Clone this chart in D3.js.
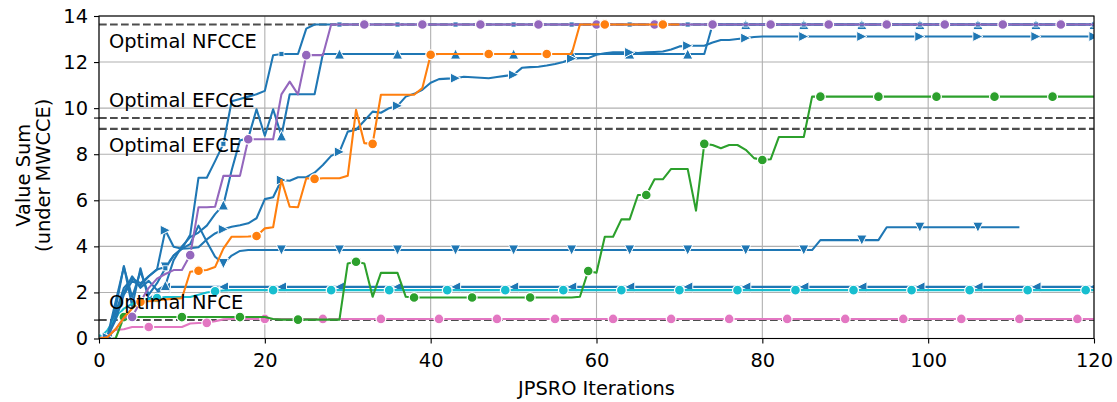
<!DOCTYPE html>
<html><head><meta charset="utf-8">
<script src="https://cdn.jsdelivr.net/npm/d3@7"></script>
<style>
body{margin:0;background:#fff}
svg{display:block}
text{font-family:"DejaVu Sans",sans-serif;fill:#000}
</style>
</head><body>
<svg id="c" width="1117" height="402"></svg>
<script>
// ---------------- data ----------------
const xTicks = [0, 20, 40, 60, 80, 100, 120];
const yTicks = [0, 2, 4, 6, 8, 10, 12, 14];
const optimalNames  = ["Optimal NFCCE", "Optimal EFCCE", "Optimal EFCE", "Optimal NFCE"];
const optimalValues = [13.63, 9.57, 9.1, 0.8];
const xLabel = "JPSRO Iterations";
const yLabelLines = ["Value Sum", "(under MWCCE)"];

const squareBlue = [
 0, 0.05, 1.6, 3.1, 1.8, 2.9, 1.9, 2.4, 3.05, 3.6,
 3.9, 4.5, 6.98, 6.98, 7.7, 8.45, 10.3, 10.4, 10.5, 10.6,
 10.75, 12.3, 12.35, 12.35, 12.35, 13.45, 13.63, 13.63, 13.63, 13.63,
 13.63, 13.63, 13.63, 13.63, 13.63, 13.63, 13.63, 13.63, 13.63, 13.63,
 13.63, 13.63, 13.63, 13.63, 13.63, 13.63, 13.63, 13.63, 13.63, 13.63,
 13.63, 13.63, 13.63, 13.63, 13.63, 13.63, 13.63, 13.63, 13.63, 13.63,
 13.63, 13.63, 13.63, 13.63, 13.63, 13.63, 13.63, 13.63, 13.63, 13.63,
 13.63, 13.63, 13.63, 13.63, 13.63, 13.63, 13.63, 13.63, 13.63, 13.63,
 13.63, 13.63, 13.63, 13.63, 13.63, 13.63, 13.63, 13.63, 13.63, 13.63,
 13.63, 13.63, 13.63, 13.63, 13.63, 13.63, 13.63, 13.63, 13.63, 13.63,
 13.63, 13.63, 13.63, 13.63, 13.63, 13.63, 13.63, 13.63, 13.63, 13.63,
 13.63, 13.63, 13.63, 13.63, 13.63, 13.63, 13.63, 13.63, 13.63, 13.63,
 13.63
];
const triUpBlue = [
 0, 0.05, 0.9, 2.0, 2.7, 2.2, 2.5, 2.1, 2.3, 3.4,
 4.0, 4.4, 4.6, 4.9, 5.4, 5.8, 7.3, 8.6, 8.7, 9.95,
 8.8, 9.95, 8.8, 10.6, 10.6, 10.6, 10.6, 12.35, 12.35, 12.35,
 12.35, 12.35, 12.35, 12.35, 12.35, 12.35, 12.35, 12.35, 12.35, 12.35,
 12.35, 12.35, 12.35, 12.35, 12.35, 12.35, 12.35, 12.35, 12.35, 12.35,
 12.35, 12.35, 12.35, 12.35, 12.35, 12.35, 12.35, 12.35, 12.35, 12.35,
 12.35, 12.35, 12.35, 12.35, 12.35, 12.35, 12.35, 12.35, 12.35, 12.35,
 12.35, 12.35, 12.35, 12.35, 13.63, 13.63, 13.63, 13.63, 13.63, 13.63,
 13.63, 13.63, 13.63, 13.63, 13.63, 13.63, 13.63, 13.63, 13.63, 13.63,
 13.63, 13.63, 13.63, 13.63, 13.63, 13.63, 13.63, 13.63, 13.63, 13.63,
 13.63, 13.63, 13.63, 13.63, 13.63, 13.63, 13.63, 13.63, 13.63, 13.63,
 13.63, 13.63, 13.63, 13.63, 13.63, 13.63, 13.63, 13.63, 13.63, 13.63,
 13.63
];
const triRightBlue = [
 0, 0.05, 0.8, 1.9, 2.5, 2.3, 2.7, 3.0, 4.7, 3.98,
 3.9, 3.92, 3.96, 4.3, 4.56, 4.74, 4.85, 4.92, 5.0, 5.22,
 6.05, 6.13, 6.88, 6.85, 7.0, 7.0, 7.2, 7.53, 7.93, 8.1,
 8.98, 9.06, 9.45, 9.85, 9.8, 10.0, 10.1, 10.5, 10.62, 10.8,
 11.1, 11.26, 11.28, 11.3, 11.36, 11.34, 11.32, 11.3, 11.35, 11.4,
 11.45, 11.75, 11.78, 11.8, 11.85, 11.92, 12.0, 12.15, 12.17, 12.17,
 12.32, 12.38, 12.42, 12.42, 12.42, 12.39, 12.42, 12.44, 12.46, 12.55,
 12.68, 12.71, 12.71, 12.71, 12.85, 12.96, 12.96, 13.0, 13.04, 13.09,
 13.11, 13.11, 13.11, 13.11, 13.11, 13.11, 13.11, 13.11, 13.11, 13.11,
 13.11, 13.11, 13.11, 13.11, 13.11, 13.11, 13.11, 13.11, 13.11, 13.11,
 13.11, 13.11, 13.11, 13.11, 13.11, 13.11, 13.11, 13.11, 13.11, 13.11,
 13.11, 13.11, 13.11, 13.11, 13.11, 13.11, 13.11, 13.11, 13.11, 13.11,
 13.11
];
const triDownBlue = [
 0, 0.05, 1.1, 2.2, 2.6, 2.4, 2.7, 3.0, 3.1, 3.6,
 3.9, 4.1, 4.9, 4.2, 3.55, 3.25, 3.6, 3.8, 3.84, 3.84,
 3.84, 3.84, 3.84, 3.84, 3.84, 3.84, 3.84, 3.84, 3.84, 3.84,
 3.84, 3.84, 3.84, 3.84, 3.84, 3.84, 3.84, 3.84, 3.84, 3.84,
 3.84, 3.84, 3.84, 3.84, 3.84, 3.84, 3.84, 3.84, 3.84, 3.84,
 3.84, 3.84, 3.84, 3.84, 3.84, 3.84, 3.84, 3.84, 3.84, 3.84,
 3.84, 3.84, 3.84, 3.84, 3.84, 3.84, 3.84, 3.84, 3.84, 3.84,
 3.84, 3.84, 3.84, 3.84, 3.84, 3.84, 3.84, 3.84, 3.84, 3.84,
 3.84, 3.84, 3.84, 3.84, 3.84, 3.84, 3.84, 4.27, 4.27, 4.27,
 4.27, 4.27, 4.27, 4.27, 4.27, 4.83, 4.83, 4.83, 4.83, 4.83,
 4.83, 4.83, 4.83, 4.83, 4.83, 4.83, 4.83, 4.83, 4.83, 4.83,
 4.83, 4.83
];
const triLeftBlue = [
 0, 0.05, 1.3, 3.15, 1.4, 3.05, 1.7, 2.0, 2.23, 2.24,
 2.24, 2.24, 2.24, 2.24, 2.24, 2.24, 2.24, 2.24, 2.24, 2.24,
 2.24, 2.24, 2.24, 2.24, 2.24, 2.24, 2.24, 2.24, 2.24, 2.24,
 2.24, 2.24, 2.24, 2.24, 2.24, 2.24, 2.24, 2.24, 2.24, 2.24,
 2.24, 2.24, 2.24, 2.24, 2.24, 2.24, 2.24, 2.24, 2.24, 2.24,
 2.24, 2.24, 2.24, 2.24, 2.24, 2.24, 2.24, 2.24, 2.24, 2.24,
 2.24, 2.24, 2.24, 2.24, 2.24, 2.24, 2.24, 2.24, 2.24, 2.24,
 2.24, 2.24, 2.24, 2.24, 2.24, 2.24, 2.24, 2.24, 2.24, 2.24,
 2.24, 2.24, 2.24, 2.24, 2.24, 2.24, 2.24, 2.24, 2.24, 2.24,
 2.24, 2.24, 2.24, 2.24, 2.24, 2.24, 2.24, 2.24, 2.24, 2.24,
 2.24, 2.24, 2.24, 2.24, 2.24, 2.24, 2.24, 2.24, 2.24, 2.24,
 2.24, 2.24, 2.24, 2.24, 2.24, 2.24, 2.24, 2.24, 2.24, 2.24,
 2.24
];
const cyanSeries = [
 0, 0.35, 0.9, 1.3, 1.5, 1.65, 1.72, 1.76, 1.8, 1.8,
 1.8, 1.8, 1.9, 2.0, 2.05, 2.08, 2.1, 2.1, 2.1, 2.1,
 2.1, 2.1, 2.1, 2.1, 2.1, 2.1, 2.1, 2.1, 2.1, 2.1,
 2.1, 2.1, 2.1, 2.1, 2.1, 2.1, 2.1, 2.1, 2.1, 2.1,
 2.1, 2.1, 2.1, 2.1, 2.1, 2.1, 2.1, 2.1, 2.1, 2.1,
 2.1, 2.1, 2.1, 2.1, 2.1, 2.1, 2.1, 2.1, 2.1, 2.1,
 2.1, 2.1, 2.1, 2.1, 2.1, 2.1, 2.1, 2.1, 2.1, 2.1,
 2.1, 2.1, 2.1, 2.1, 2.1, 2.1, 2.1, 2.1, 2.1, 2.1,
 2.1, 2.1, 2.1, 2.1, 2.1, 2.1, 2.1, 2.1, 2.1, 2.1,
 2.1, 2.1, 2.1, 2.1, 2.1, 2.1, 2.1, 2.1, 2.1, 2.1,
 2.1, 2.1, 2.1, 2.1, 2.1, 2.1, 2.1, 2.1, 2.1, 2.1,
 2.1, 2.1, 2.1, 2.1, 2.1, 2.1, 2.1, 2.1, 2.1, 2.1,
 2.1
];
const greenSeries = [
 0, 0, 0, 0.93, 0.93, 0.93, 0.93, 0.93, 0.93, 0.93,
 0.93, 0.93, 0.93, 0.93, 0.93, 0.93, 0.93, 0.93, 0.93, 0.93,
 0.93, 0.85, 0.82, 0.82, 0.82, 0.82, 0.82, 0.82, 0.82, 0.82,
 3.26, 3.33, 3.26, 1.81, 2.85, 2.85, 2.85, 1.81, 1.78, 1.78,
 1.78, 1.78, 1.78, 1.78, 1.78, 1.78, 1.78, 1.78, 1.78, 1.78,
 1.78, 1.78, 1.78, 1.78, 1.78, 1.78, 1.78, 1.78, 1.81, 2.93,
 2.85, 4.42, 4.42, 5.17, 5.17, 6.23, 6.23, 6.91, 6.91, 7.36,
 7.36, 7.36, 5.55, 8.45, 8.4, 8.26, 8.4, 8.4, 8.19, 7.83,
 7.75, 7.78, 8.75, 8.75, 8.75, 8.75, 10.5, 10.5, 10.5, 10.5,
 10.5, 10.5, 10.5, 10.5, 10.5, 10.5, 10.5, 10.5, 10.5, 10.5,
 10.5, 10.5, 10.5, 10.5, 10.5, 10.5, 10.5, 10.5, 10.5, 10.5,
 10.5, 10.5, 10.5, 10.5, 10.5, 10.5, 10.5, 10.5, 10.5, 10.5,
 10.5
];
const pinkSeries = [
 0, 0.15, 0.37, 0.4, 0.5, 0.5, 0.5, 0.5, 0.5, 0.5,
 0.5, 0.65, 0.67, 0.68, 0.75, 0.83, 0.85, 0.85, 0.85, 0.85,
 0.85, 0.85, 0.85, 0.85, 0.85, 0.85, 0.85, 0.85, 0.85, 0.85,
 0.85, 0.85, 0.85, 0.85, 0.85, 0.85, 0.85, 0.85, 0.85, 0.85,
 0.85, 0.85, 0.85, 0.85, 0.85, 0.85, 0.85, 0.85, 0.85, 0.85,
 0.85, 0.85, 0.85, 0.85, 0.85, 0.85, 0.85, 0.85, 0.85, 0.85,
 0.85, 0.85, 0.85, 0.85, 0.85, 0.85, 0.85, 0.85, 0.85, 0.85,
 0.85, 0.85, 0.85, 0.85, 0.85, 0.85, 0.85, 0.85, 0.85, 0.85,
 0.85, 0.85, 0.85, 0.85, 0.85, 0.85, 0.85, 0.85, 0.85, 0.85,
 0.85, 0.85, 0.85, 0.85, 0.85, 0.85, 0.85, 0.85, 0.85, 0.85,
 0.85, 0.85, 0.85, 0.85, 0.85, 0.85, 0.85, 0.85, 0.85, 0.85,
 0.85, 0.85, 0.85, 0.85, 0.85, 0.85, 0.85, 0.85, 0.85, 0.85,
 0.85
];
const purpleSeries = [
 0, 0.05, 0.4, 0.9, 0.94, 1.6, 2.2, 2.6, 2.8, 2.97,
 2.97, 3.62, 5.7, 5.7, 5.72, 7.06, 7.06, 7.06, 8.65, 8.65,
 8.65, 8.65, 10.6, 11.15, 10.6, 12.3, 12.3, 12.3, 13.63, 13.63,
 13.63, 13.63, 13.63, 13.63, 13.63, 13.63, 13.63, 13.63, 13.63, 13.63,
 13.63, 13.63, 13.63, 13.63, 13.63, 13.63, 13.63, 13.63, 13.63, 13.63,
 13.63, 13.63, 13.63, 13.63, 13.63, 13.63, 13.63, 13.63, 13.63, 13.63,
 13.63, 13.63, 13.63, 13.63, 13.63, 13.63, 13.63, 13.63, 13.63, 13.63,
 13.63, 13.63, 13.63, 13.63, 13.63, 13.63, 13.63, 13.63, 13.63, 13.63,
 13.63, 13.63, 13.63, 13.63, 13.63, 13.63, 13.63, 13.63, 13.63, 13.63,
 13.63, 13.63, 13.63, 13.63, 13.63, 13.63, 13.63, 13.63, 13.63, 13.63,
 13.63, 13.63, 13.63, 13.63, 13.63, 13.63, 13.63, 13.63, 13.63, 13.63,
 13.63, 13.63, 13.63, 13.63, 13.63, 13.63, 13.63, 13.63, 13.63, 13.63,
 13.63
];
const orangeSeries = [
 0, 0.05, 0.4, 0.9, 1.3, 1.59, 1.62, 1.65, 1.7, 1.72,
 1.75, 2.9, 2.94, 2.97, 3.1, 3.9, 4.42, 4.42, 4.43, 4.45,
 4.78, 4.83, 6.88, 5.72, 5.7, 6.96, 6.93, 6.96, 6.96, 6.96,
 7.06, 9.93, 8.48, 8.45, 10.58, 10.58, 10.58, 10.58, 10.58, 10.87,
 12.32, 12.35, 12.35, 12.35, 12.35, 12.35, 12.35, 12.35, 12.35, 12.35,
 12.35, 12.35, 12.35, 12.35, 12.35, 12.35, 12.35, 12.35, 13.63, 13.63,
 13.63, 13.63, 13.63, 13.63, 13.63, 13.63, 13.63, 13.63, 13.63, 13.63,
 13.63
];

// ---------------- styling / config ----------------
const C = {blue:"#1f77b4", orange:"#ff7f0e", green:"#2ca02c", purple:"#9467bd", pink:"#e377c2", cyan:"#17becf"};
// drawing order, marker type, marker phase (every 7 iterations)
const series = [
  {values: triDownBlue,  color: C.blue,   marker: "down",   phase: 1},
  {values: triLeftBlue,  color: C.blue,   marker: "left",   phase: 1},
  {values: cyanSeries,   color: C.cyan,   marker: "circle", phase: 0},
  {values: pinkSeries,   color: C.pink,   marker: "circle", phase: 6},
  {values: greenSeries,  color: C.green,  marker: "circle", phase: 3},
  {values: triUpBlue,    color: C.blue,   marker: "up",     phase: 1},
  {values: squareBlue,   color: C.blue,   marker: "square", phase: 1},
  {values: triRightBlue, color: C.blue,   marker: "right",  phase: 1},
  {values: purpleSeries, color: C.purple, marker: "circle", phase: 4},
  {values: orangeSeries, color: C.orange, marker: "circle", phase: 5}
];
const markEvery = 7;
const labelPlacement = ["below", "above", "below", "above"];

// ---------------- chart ----------------
const L = 99, R = 1094, T = 16, B = 338.5;
const FS = "19.4px";

const x = d3.scaleLinear().domain([0, 120]).range([L, R]);
const y = d3.scaleLinear().domain([0, 14]).range([B, T]);

const svg = d3.select("#c");
svg.append("defs").append("clipPath").attr("id", "plotclip")
  .append("rect").attr("x", L).attr("y", T).attr("width", R - L).attr("height", B - T);

// grid
const grid = svg.append("g").attr("stroke", "#b0b0b0").attr("stroke-width", 1.1);
grid.selectAll("line.v").data(xTicks).join("line").attr("class", "v")
  .attr("x1", d => x(d)).attr("x2", d => x(d)).attr("y1", T).attr("y2", B);
grid.selectAll("line.h").data(yTicks).join("line").attr("class", "h")
  .attr("x1", L).attr("x2", R).attr("y1", d => y(d)).attr("y2", d => y(d));

// optimal dashed lines
svg.append("g").attr("clip-path", "url(#plotclip)")
  .selectAll("line").data(optimalValues).join("line")
  .attr("x1", L).attr("x2", R).attr("y1", d => y(d)).attr("y2", d => y(d))
  .attr("stroke", "#4d4d4d").attr("stroke-width", 2.08).attr("stroke-dasharray", "7.7,3.3");

// markers
function markerPath(type) {
  const r = 5.1, s = 2.5, c = 4.9;
  switch (type) {
    case "circle": return d3.symbol(d3.symbolCircle, Math.PI * c * c)();
    case "up":     return `M0,${-r}L${r},${r}L${-r},${r}Z`;
    case "down":   return `M0,${r}L${r},${-r}L${-r},${-r}Z`;
    case "left":   return `M${-r},0L${r},${-r}L${r},${r}Z`;
    case "right":  return `M${r},0L${-r},${-r}L${-r},${r}Z`;
    case "square": return `M${-s},${-s}h${2*s}v${2*s}h${-2*s}Z`;
  }
}

const line = d3.line().x((d, i) => x(i)).y(d => y(d));
const plot = svg.append("g").attr("clip-path", "url(#plotclip)");
series.forEach(s => {
  const g = plot.append("g");
  g.append("path").datum(s.values).attr("d", line)
    .attr("fill", "none").attr("stroke", s.color).attr("stroke-width", 2.08)
    .attr("stroke-linejoin", "round").attr("stroke-linecap", "butt");
  const pts = s.values.map((v, i) => ({i, v})).filter(p => p.i % markEvery === s.phase);
  g.selectAll("path.m").data(pts).join("path").attr("class", "m")
    .attr("transform", p => `translate(${x(p.i)},${y(p.v)})`)
    .attr("d", markerPath(s.marker))
    .attr("fill", s.color).attr("stroke", "#fff")
    .attr("stroke-width", s.marker === "circle" ? 1.2 : (s.marker === "square" ? 0.8 : 1.0));
});

// axes
const xAxis = svg.append("g").attr("transform", `translate(0,${B})`)
  .call(d3.axisBottom(x).tickValues(xTicks).tickSize(5).tickPadding(9.5).tickSizeOuter(0));
const yAxis = svg.append("g").attr("transform", `translate(${L},0)`)
  .call(d3.axisLeft(y).tickValues(yTicks).tickSize(5).tickPadding(6).tickSizeOuter(0));
[xAxis, yAxis].forEach(a => {
  a.attr("font-size", null);
  a.select(".domain").remove();
  a.selectAll(".tick line").attr("stroke", "#000").attr("stroke-width", 1.1);
  a.selectAll("text").style("font-size", FS)
    .style("font-family", '"DejaVu Sans",sans-serif').attr("fill", "#000");
});

// extra small ticks at two optimal levels (as in the original)
svg.append("g").selectAll("line").data([optimalValues[1], optimalValues[3]]).join("line")
  .attr("x1", L - 5).attr("x2", L).attr("y1", d => y(d)).attr("y2", d => y(d))
  .attr("stroke", "#000").attr("stroke-width", 1.1);

// frame
svg.append("rect").attr("x", L).attr("y", T).attr("width", R - L).attr("height", B - T)
  .attr("fill", "none").attr("stroke", "#000").attr("stroke-width", 1.1);

// optimal labels
svg.append("g").selectAll("text").data(optimalNames).join("text")
  .attr("x", x(0) + 10)
  .attr("y", (d, i) => y(optimalValues[i]) + (labelPlacement[i] === "below" ? 23.3 : -11.5))
  .style("font-size", FS).text(d => d);

// axis labels
svg.append("text").attr("x", (L + R) / 2).attr("y", 395).attr("text-anchor", "middle")
  .style("font-size", FS).text(xLabel);
const yl = svg.append("text").attr("transform", `translate(0,${(T + B) / 2 - 2}) rotate(-90)`)
  .attr("text-anchor", "middle").style("font-size", FS);
yl.selectAll("tspan").data(yLabelLines).join("tspan")
  .attr("x", 0).attr("y", (d, i) => i === 0 ? 30 : 49.5).text(d => d);
</script>
</body></html>
